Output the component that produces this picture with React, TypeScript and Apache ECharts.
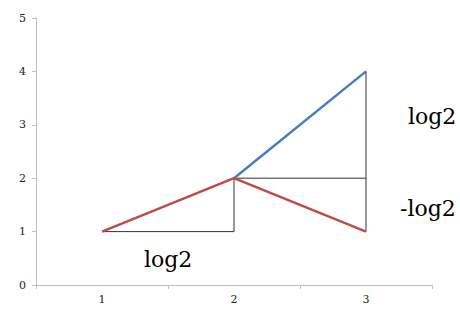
import React, { useEffect, useRef } from "react";
import * as echarts from "echarts";

const categories = ["1", "2", "3"];
const blueValues = [null, 2, 4];
const redValues = [1, 2, 1];
const yTicks = { min: 0, max: 5, interval: 1 };
const guideLines: [number, number][][] = [
  [[0, 1], [1, 1], [1, 2]],
  [[1, 2], [2, 2]],
  [[2, 1], [2, 4]],
];
const annotations = ["log2", "log2", "-log2"];

export default function App() {
  const ref = useRef<HTMLDivElement>(null);
  useEffect(() => {
    const chart = echarts.init(ref.current!, null, { renderer: "svg" });
    const serif = "DejaVu Serif";
    const txt = (text: string, x: number, y: number) => ({
      type: "text",
      x,
      y,
      style: { text, fontFamily: serif, fontSize: 22, fill: "#000" },
    });
    chart.setOption({
      animation: false,
      textStyle: { fontFamily: serif },
      grid: { left: 36, right: 28, top: 18, bottom: 24 },
      xAxis: {
        type: "category",
        data: categories,
        boundaryGap: true,
        axisLine: { lineStyle: { color: "#bfbfbf", width: 1 } },
        axisTick: { show: true, length: 4, lineStyle: { color: "#bfbfbf" } },
        axisLabel: { color: "#222", fontFamily: serif, fontSize: 11, margin: 9 },
      },
      yAxis: {
        type: "value",
        min: yTicks.min,
        max: yTicks.max,
        interval: yTicks.interval,
        splitLine: { show: false },
        axisLine: { show: true, lineStyle: { color: "#bfbfbf", width: 1 } },
        axisTick: { show: true, length: 4, lineStyle: { color: "#bfbfbf" } },
        axisLabel: { color: "#222", fontFamily: serif, fontSize: 11, margin: 10 },
      },
      series: [
        ...guideLines.map((d) => ({
          type: "line",
          data: d,
          symbol: "none",
          lineStyle: { color: "#333", width: 1 },
          silent: true,
        })),
        {
          type: "line",
          data: blueValues,
          symbol: "none",
          lineStyle: { color: "#4a7ebb", width: 2.5 },
        },
        {
          type: "line",
          data: redValues,
          symbol: "none",
          lineStyle: { color: "#be4b48", width: 2.5 },
        },
      ],
      graphic: [
        txt(annotations[0], 144, 248),
        txt(annotations[1], 408, 105),
        txt(annotations[2], 400, 197),
      ],
    });
    return () => chart.dispose();
  }, []);
  return <div ref={ref} style={{ width: 460, height: 309, position: "absolute", left: 0, top: 0 }} />;
}
